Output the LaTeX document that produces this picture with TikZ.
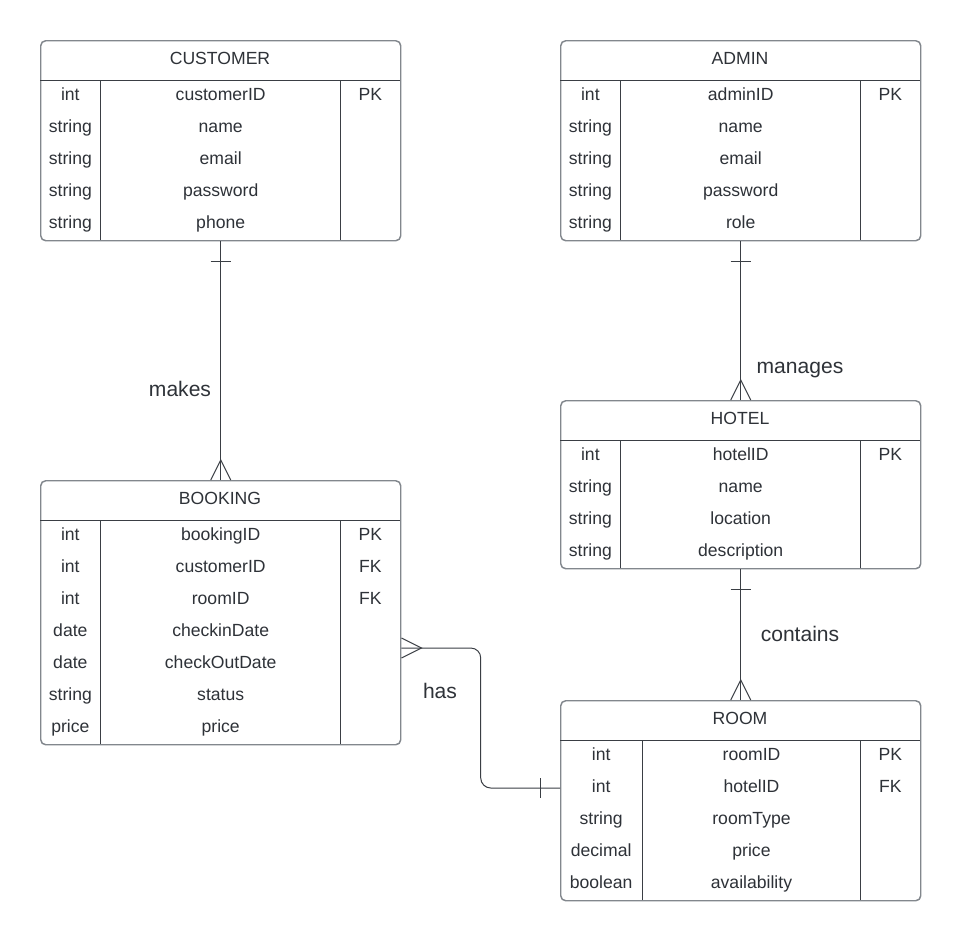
\documentclass[tikz,border=0pt]{standalone}
\usepackage{fontspec}
\setmainfont{Liberation Sans}
\usetikzlibrary{calc}

\definecolor{ink}{HTML}{2E3238}
\definecolor{edge}{HTML}{3A3E44}
\definecolor{frame}{HTML}{82878D}

\tikzset{
  entitybox/.style={draw=frame, line width=1.1pt, rounded corners=3.75pt,
    minimum width=270pt, inner sep=0pt, fill=white},
  divider/.style={draw=edge, line width=0.75pt},
  celltext/.style={anchor=base, inner sep=0pt, text=ink,
    font=\fontsize{13.2}{15}\selectfont},
  reltext/.style={anchor=base, inner sep=0pt, text=ink,
    font=\fontsize{15.8}{18}\selectfont},
  conn/.style={draw=edge, line width=0.75pt},
}

% #1 id, #2 left, #3 top, #4 x of type divider, #5 number of rows,
% #6 title, #7 rows as type/field/key
\newcommand{\erentity}[7]{%
  \node[entitybox, minimum height={(40+32*#5)*0.75pt}, anchor=north west] (#1) at (#2,#3) {};
  \draw[divider] (#2,#3+40) -- (#2+360,#3+40);
  \draw[divider] (#4,#3+40) -- (#4,#3+40+32*#5);
  \draw[divider] (#2+300.7,#3+40) -- (#2+300.7,#3+40+32*#5);
  \node[celltext] (#1-title) at (#2+180,#3+24.2) {#6};
  \foreach \ty/\fd/\ky [count=\i] in {#7} {
    \node[celltext] (#1-type-\i) at ({(#2+#4)/2},{#3+40+32*\i-16+4.2}) {\ty};
    \node[celltext] (#1-field-\i) at ({(#4+#2+300.7)/2},{#3+40+32*\i-16+4.2}) {\fd};
    \node[celltext] (#1-key-\i) at (#2+330.35,{#3+40+32*\i-16+4.2}) {\ky};
  }
}

\begin{document}
\begin{tikzpicture}[x=0.75pt, y=-0.75pt]
\useasboundingbox (0,0) rectangle (960,940);
\fill[white] (0,0) rectangle (960,940);

% entities
\erentity{customer}{40}{40}{100.7}{5}{CUSTOMER}{%
  int/customerID/PK, string/name/{}, string/email/{}, string/password/{}, string/phone/{}}
\erentity{admin}{560}{40}{620.7}{5}{ADMIN}{%
  int/adminID/PK, string/name/{}, string/email/{}, string/password/{}, string/role/{}}
\erentity{hotel}{560}{400}{620.7}{4}{HOTEL}{%
  int/hotelID/PK, string/name/{}, string/location/{}, string/description/{}}
\erentity{booking}{40}{480}{100.7}{7}{BOOKING}{%
  int/bookingID/PK, int/customerID/FK, int/roomID/FK, date/checkinDate/{},
  date/checkOutDate/{}, string/status/{}, price/price/{}}
\erentity{room}{560}{700}{642.3}{5}{ROOM}{%
  int/roomID/PK, int/hotelID/FK, string/roomType/{}, decimal/price/{}, boolean/availability/{}}

% CUSTOMER makes BOOKING
\draw[conn] (customer.south) -- (booking.north);
\draw[conn] ($(customer.south)+(-10,20)$) -- ($(customer.south)+(10,20)$);
\draw[conn] ($(booking.north)+(-10,0)$) -- ($(booking.north)+(0,-20)$) -- ($(booking.north)+(10,0)$);
\node[reltext] (makes) at (180,396.5) {makes};

% ADMIN manages HOTEL
\draw[conn] (admin.south) -- (hotel.north);
\draw[conn] ($(admin.south)+(-10,20)$) -- ($(admin.south)+(10,20)$);
\draw[conn] ($(hotel.north)+(-10,0)$) -- ($(hotel.north)+(0,-20)$) -- ($(hotel.north)+(10,0)$);
\node[reltext] (manages) at (800,373) {manages};

% HOTEL contains ROOM
\draw[conn] (hotel.south) -- (room.north);
\draw[conn] ($(hotel.south)+(-10,20)$) -- ($(hotel.south)+(10,20)$);
\draw[conn] ($(room.north)+(-10,0)$) -- ($(room.north)+(0,-20)$) -- ($(room.north)+(10,0)$);
\node[reltext] (contains) at (800,641.7) {contains};

% BOOKING has ROOM
\coordinate (hasA) at ($(booking.north east)+(0,168)$);
\coordinate (hasB) at ($(room.north west)+(0,88)$);
\draw[conn, rounded corners=7.5pt] (hasA) -| ($(hasA)!0.5!(hasB)$) |- (hasB);
\draw[conn] ($(hasA)+(0,-10)$) -- ($(hasA)+(20,0)$) -- ($(hasA)+(0,10)$);
\draw[conn] ($(hasB)+(-20,-10)$) -- ($(hasB)+(-20,10)$);
\node[reltext] (has) at (440,698.3) {has};
\end{tikzpicture}
\end{document}
